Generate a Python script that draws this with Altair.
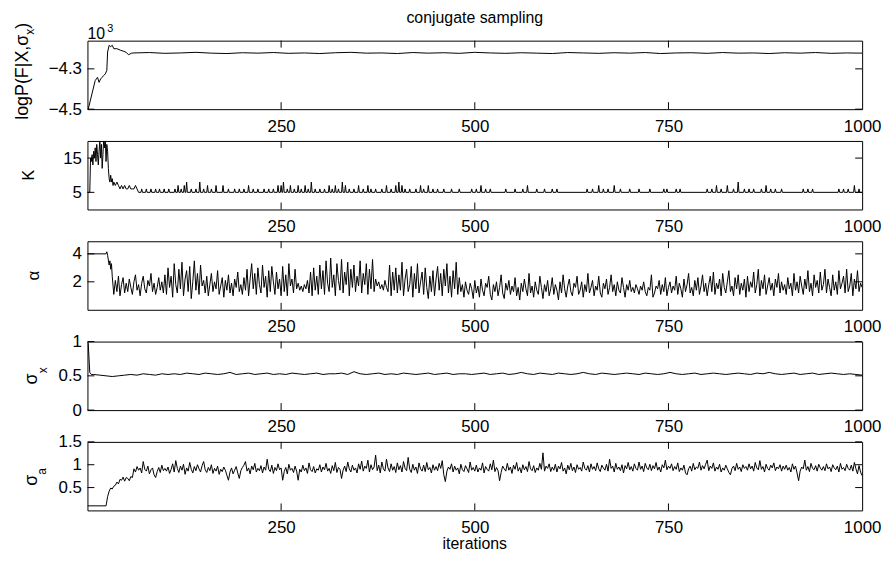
import altair as alt
import pandas as pd

FONT = "Liberation Sans"
W, H = 780, 69
SPACING = 32
TICK = 7

x_tick_labels = [250, 500, 750, 1000]
x_tick_marks = [250, 500, 750]

# ---- panel 1: logP(F|X, sigma_x), in units of 10^3 ----
logp_early_iter = [1, 10, 13, 15, 17, 19, 21, 23, 25, 26, 28, 30, 32, 34, 38, 43, 47, 50, 53, 57, 60]
logp_early_val = [-4.5, -4.358, -4.342, -4.367, -4.35, -4.342, -4.333, -4.325, -4.308, -4.2165,
                  -4.183, -4.19, -4.183, -4.2, -4.2, -4.208, -4.213, -4.218, -4.23, -4.222, -4.221]
logp_steady_start, logp_steady_step = 80, 20
logp_steady = [-4.219, -4.223, -4.221, -4.218, -4.222, -4.224, -4.220, -4.222, -4.219, -4.223,
               -4.221, -4.224, -4.220, -4.218, -4.222, -4.221, -4.224, -4.219, -4.222, -4.220,
               -4.223, -4.218, -4.221, -4.223, -4.220, -4.222, -4.224, -4.219, -4.221, -4.223,
               -4.220, -4.222, -4.219, -4.224, -4.221, -4.220, -4.223, -4.219, -4.222, -4.221,
               -4.224, -4.220, -4.222, -4.219, -4.223, -4.221, -4.222]

# ---- panel 2: K ----
k_early_iter = [0, 3, 4, 5, 6, 7, 8, 9, 10, 11, 12, 13, 14, 15, 16, 17, 18, 19, 20, 21, 22, 23,
                24, 25, 26, 27, 28, 29, 30, 31, 32, 33, 34, 36, 38, 40, 42, 44, 46, 48, 50, 52,
                54, 56, 58, 60, 62, 64, 66]
k_early_val = [5, 5, 15, 14, 16, 13, 17, 15, 18, 14, 19, 16, 13, 17, 20, 15, 19, 12, 16, 21, 18, 21,
               14, 19, 17, 12, 9, 8, 10, 8, 9, 7, 8, 7, 8, 7, 6, 7, 6, 7, 6, 6,
               7, 6, 6, 6, 7, 6, 5]
k_base = 5
k_spike_iter = [70, 76, 82, 88, 93, 99, 105, 113, 117, 121, 125, 128, 134, 140, 145, 150, 155, 160,
                166, 175, 182, 190, 196, 202, 208, 214, 220, 228, 234, 240, 246, 250, 253, 258, 262,
                267, 272, 276, 281, 285, 289, 294, 300, 306, 312, 316, 320, 324, 329, 333, 338, 344,
                350, 356, 362, 366, 372, 380, 386, 392, 398, 402, 406, 410, 416, 424, 430, 434, 440,
                446, 452, 460, 470, 480, 496, 502, 508, 514, 520, 540, 552, 562, 568, 580, 590, 600,
                606, 645, 652, 660, 666, 672, 680, 688, 700, 712, 726, 744, 748, 760, 765, 800, 806,
                812, 818, 826, 834, 840, 848, 854, 860, 870, 876, 882, 888, 896, 924, 930, 936, 970,
                976, 982, 990, 996]
k_spike_val = [6, 6, 6, 6, 6, 6, 6, 6, 7, 6, 7, 8, 6, 6, 8, 6, 7, 6,
               7, 7, 6, 6, 6, 6, 7, 6, 6, 6, 6, 6, 7, 7, 8, 6, 7,
               6, 7, 6, 7, 6, 8, 6, 6, 6, 7, 6, 7, 6, 8, 7, 6, 6,
               7, 6, 7, 6, 6, 6, 7, 6, 7, 8, 7, 6, 6, 6, 7, 6, 7,
               6, 6, 6, 6, 6, 6, 6, 7, 6, 6, 6, 6, 6, 7, 6, 6, 6,
               6, 6, 6, 7, 6, 6, 7, 6, 6, 6, 6, 6, 6, 6, 6, 6, 6,
               7, 6, 7, 6, 8, 6, 6, 6, 6, 7, 6, 6, 6, 6, 6, 6, 6,
               6, 6, 7, 6]

# ---- panel 3: alpha (early part, then every 2nd iteration from 52) ----
alpha_early_iter = [0, 24, 25, 26, 28, 29, 30, 31, 32, 34, 36, 38, 40, 42, 44, 46, 48, 50]
alpha_early_val = [4.0, 4.0, 4.15, 3.9, 3.2, 3.5, 2.9, 3.3, 2.4, 1.1, 2.1, 1.3, 2.4, 1.0, 1.8, 2.3, 1.2, 1.9]
alpha_start, alpha_step = 52, 2
alpha_c1 = [1.3, 2.2, 1.6, 1.1, 2.0, 2.5, 1.4, 1.8, 1.0, 1.9, 2.4, 1.5, 1.2, 2.1, 1.7, 2.6, 1.3, 1.9, 1.1, 1.6, 2.3, 1.4, 2.0, 1.2, 2.5]
alpha_c2 = [1.1, 3.0, 1.6, 2.4, 0.9, 3.3, 1.8, 1.2, 2.9, 1.5, 3.4, 1.0, 2.2, 2.8, 1.3, 3.1, 0.8, 2.0, 3.5, 1.4, 2.6, 1.1, 3.2, 1.7, 2.1]
alpha_c3 = [1.2, 2.4, 1.0, 1.8, 2.6, 1.3, 2.0, 1.5, 2.8, 1.1, 1.7, 2.3, 0.9, 2.1, 1.4, 2.5, 1.2, 1.9, 1.0, 2.2, 1.6, 2.7, 1.3, 1.8, 1.1]
alpha_c4 = [2.3, 1.4, 2.9, 1.0, 2.2, 3.3, 1.5, 2.6, 1.1, 3.0, 1.8, 1.2, 3.2, 1.6, 2.4, 0.9, 2.8, 1.3, 3.1, 2.0, 1.1, 2.7, 1.5, 2.2, 1.0]
alpha_c5 = [3.1, 1.3, 2.5, 1.0, 3.3, 1.7, 2.2, 1.2, 2.9, 1.5, 1.9, 1.4, 1.7, 1.3, 1.8, 1.5, 2.1, 1.2, 2.7, 1.0, 3.0, 1.4, 2.4, 1.1, 3.2]
alpha_c6 = [1.5, 2.8, 1.1, 3.5, 1.9, 1.3, 3.7, 1.6, 2.5, 1.0, 3.3, 2.1, 1.4, 3.6, 1.2, 2.7, 1.8, 3.4, 1.0, 2.9, 1.6, 3.2, 1.3, 2.4, 1.7]
alpha_c7 = [3.5, 1.2, 2.6, 1.8, 3.3, 1.1, 2.9, 1.5, 3.6, 1.3, 2.2, 1.7, 2.0, 1.5, 1.8, 1.4, 2.1, 1.6, 1.3, 3.2, 1.0, 2.7, 1.4, 3.0, 1.2]
alpha_c8 = [2.5, 1.4, 3.4, 1.0, 2.2, 2.9, 1.3, 1.8, 3.1, 0.9, 2.6, 1.5, 3.3, 1.2, 2.0, 2.7, 1.1, 3.0, 1.6, 0.8, 2.4, 1.3, 2.8, 1.0, 2.2]
alpha_c9 = [3.1, 1.4, 2.6, 1.0, 2.9, 1.7, 3.3, 1.2, 2.4, 0.9, 2.8, 1.5, 3.4, 1.1, 2.3, 1.3, 1.8, 0.9, 2.0, 1.4, 1.1, 1.9, 1.5, 0.8, 2.1]
alpha_c10 = [1.2, 1.7, 0.9, 2.2, 1.4, 1.0, 1.9, 1.6, 2.4, 1.1, 0.7, 1.8, 1.3, 2.0, 1.0, 1.6, 2.5, 1.2, 0.8, 1.9, 1.4, 2.1, 1.1, 1.7, 1.3]
alpha_c11 = [2.3, 1.0, 1.6, 0.7, 1.9, 1.3, 2.2, 1.5, 1.0, 2.6, 1.2, 1.7, 0.9, 2.0, 1.4, 1.1, 2.4, 1.6, 0.8, 1.8, 1.3, 2.1, 1.0, 1.5, 2.3]
alpha_c12 = [1.1, 1.8, 1.4, 0.7, 2.0, 1.2, 2.5, 1.5, 0.9, 1.7, 2.2, 1.3, 1.0, 1.9, 1.6, 2.4, 1.1, 1.4, 2.0, 0.9, 1.8, 1.3, 2.6, 1.2, 1.6]
alpha_c13 = [2.1, 1.0, 1.7, 1.4, 2.4, 1.2, 0.9, 1.9, 1.5, 2.2, 1.1, 1.6, 2.5, 1.3, 1.8, 1.0, 2.0, 1.4, 1.2, 2.3, 1.6, 0.9, 1.8, 1.4, 2.1]
alpha_c14 = [1.3, 1.6, 1.2, 1.8, 1.5, 1.1, 1.7, 1.4, 2.0, 1.3, 1.0, 1.6, 1.4, 2.5, 0.9, 1.2, 1.7, 1.5, 2.1, 1.1, 1.8, 1.3, 2.3, 1.0, 1.6]
alpha_c15 = [2.0, 1.2, 1.7, 1.4, 2.4, 1.1, 1.9, 1.5, 0.9, 2.2, 1.3, 1.8, 2.6, 1.2, 1.6, 1.0, 2.1, 1.4, 2.3, 1.1, 1.7, 2.5, 1.3, 1.9, 1.0]
alpha_c16 = [1.8, 2.4, 1.3, 2.7, 1.1, 1.9, 1.5, 2.2, 1.0, 2.6, 1.6, 1.2, 2.0, 2.8, 1.3, 1.7, 1.0, 2.3, 1.5, 2.5, 1.1, 1.9, 1.4, 2.2, 0.9]
alpha_c17 = [2.4, 1.3, 2.0, 1.6, 2.7, 1.2, 1.8, 2.9, 1.0, 2.1, 1.5, 2.5, 1.1, 1.7, 2.3, 1.4, 1.9, 1.0, 2.2, 1.6, 2.6, 1.2, 2.0, 1.4, 1.8]
alpha_c18 = [1.1, 2.3, 1.5, 1.9, 1.0, 2.6, 1.4, 2.0, 1.2, 2.4, 1.7, 1.1, 2.2, 1.5, 2.8, 1.3, 1.9, 1.0, 2.5, 1.6, 2.1, 1.2, 2.7, 1.4, 1.8]
alpha_c19 = [2.9, 1.2, 2.2, 1.6, 1.0, 2.5, 1.4, 2.0, 1.1, 2.8, 1.5, 1.9, 2.4, 1.2, 2.9, 1.3, 1.7, 2.6, 1.0, 2.2, 1.5, 2.8, 1.3, 1.9, 1.6]

# ---- panel 4: sigma_x ----
sx_early_iter = [0, 1, 3, 5]
sx_early_val = [1.0, 0.97, 0.55, 0.52]
sx_start, sx_step = 8, 8
sx_a = [0.52, 0.51, 0.50, 0.49, 0.50, 0.51, 0.52, 0.51, 0.53, 0.52, 0.51, 0.53]
sx_b = [0.52, 0.53, 0.52, 0.54, 0.53, 0.52, 0.54, 0.53, 0.52, 0.53, 0.55, 0.52, 0.53]
sx_c = [0.54, 0.52, 0.53, 0.54, 0.52, 0.53, 0.52, 0.54, 0.53, 0.52, 0.53, 0.54]
sx_d = [0.52, 0.53, 0.53, 0.54, 0.52, 0.56, 0.53, 0.52, 0.53, 0.54, 0.52, 0.53, 0.52]
sx_e = [0.54, 0.53, 0.52, 0.53, 0.54, 0.52, 0.53, 0.54, 0.52, 0.53, 0.53, 0.52]
sx_f = [0.53, 0.54, 0.52, 0.53, 0.54, 0.52, 0.53, 0.55, 0.53, 0.52, 0.54, 0.53, 0.52]
sx_g = [0.54, 0.53, 0.52, 0.53, 0.55, 0.53, 0.52, 0.54, 0.53, 0.52, 0.53, 0.54]
sx_h = [0.53, 0.52, 0.54, 0.53, 0.52, 0.53, 0.55, 0.53, 0.52, 0.53, 0.54, 0.52, 0.53]
sx_i = [0.54, 0.53, 0.52, 0.53, 0.54, 0.53, 0.52, 0.54, 0.53, 0.55, 0.53, 0.52]
sx_j = [0.53, 0.54, 0.52, 0.53, 0.54, 0.52, 0.53, 0.54, 0.53, 0.52, 0.53, 0.52, 0.51]

# ---- panel 5: sigma_a (early part, then every 2nd iteration from 52) ----
sa_early_iter = [0, 24, 26, 28, 30, 32, 34, 36, 38, 40, 42, 44, 46, 48, 50]
sa_early_val = [0.1, 0.1, 0.3, 0.42, 0.49, 0.47, 0.53, 0.55, 0.62, 0.58, 0.68, 0.66, 0.73, 0.64, 0.72]
sa_start, sa_step = 52, 2
sa_c1 = [0.70, 0.65, 0.74, 0.72, 0.91, 0.84, 0.96, 0.88, 0.93, 0.82, 1.07, 0.90, 0.86, 0.97, 0.80, 0.89, 0.93, 0.78, 0.72, 0.85, 0.94, 0.83, 0.99, 0.87, 0.92]
sa_c2 = [0.86, 0.95, 0.81, 0.90, 1.02, 0.84, 1.09, 0.92, 0.83, 0.97, 0.88, 1.01, 0.79, 0.93, 0.86, 1.05, 0.90, 0.82, 0.96, 0.87, 1.00, 0.91, 0.84, 0.98, 1.07]
sa_c3 = [0.89, 0.83, 0.94, 0.87, 1.00, 0.81, 0.92, 0.86, 0.97, 0.79, 0.90, 0.85, 0.95, 0.88, 0.77, 0.66, 0.84, 0.93, 0.80, 0.88, 0.96, 0.82, 0.70, 0.87, 0.94]
sa_c4 = [0.99, 1.07, 0.86, 0.93, 0.80, 0.97, 0.89, 1.03, 0.84, 0.92, 0.87, 0.98, 0.82, 0.95, 0.88, 1.12, 0.90, 0.85, 0.99, 0.81, 0.94, 0.87, 1.02, 0.89, 0.93]
sa_c5 = [0.66, 0.85, 0.94, 0.80, 1.01, 0.88, 0.92, 0.83, 0.97, 0.86, 0.66, 0.90, 0.84, 0.99, 0.87, 0.93, 0.81, 1.04, 0.89, 0.85, 0.96, 0.82, 0.91, 0.88, 1.00]
sa_c6 = [0.84, 0.95, 0.89, 1.03, 0.86, 0.92, 0.81, 0.98, 0.87, 1.05, 0.83, 0.94, 0.90, 0.70, 0.88, 0.97, 0.85, 1.06, 0.91, 0.84, 0.99, 0.88, 0.93, 0.82, 1.02]
sa_c7 = [0.90, 1.08, 0.86, 0.97, 0.92, 1.10, 0.84, 1.00, 0.89, 0.95, 1.21, 0.87, 0.99, 0.82, 1.06, 0.91, 0.86, 1.12, 0.93, 0.85, 1.02, 0.88, 0.96, 0.83, 1.04]
sa_c8 = [0.89, 0.98, 0.84, 1.07, 0.92, 0.87, 1.16, 0.90, 0.83, 1.01, 0.88, 0.95, 0.81, 1.04, 0.91, 0.86, 0.99, 0.85, 1.05, 0.89, 0.94, 0.82, 1.00, 0.88, 0.96]
sa_c9 = [0.87, 1.03, 0.92, 1.09, 0.78, 0.63, 0.86, 0.95, 0.90, 1.02, 0.84, 0.97, 0.88, 0.93, 0.80, 1.01, 0.89, 0.85, 0.98, 0.91, 0.83, 1.06, 0.88, 0.94, 0.86]
sa_c10 = [0.99, 0.84, 0.93, 0.88, 1.04, 0.82, 0.96, 0.90, 0.86, 1.02, 0.89, 1.10, 0.85, 0.94, 0.87, 0.65, 0.83, 0.97, 0.91, 0.86, 1.03, 0.88, 0.95, 0.81, 0.99]
sa_c11 = [0.90, 1.05, 0.86, 0.94, 0.82, 1.00, 0.89, 0.96, 0.85, 1.07, 0.91, 0.87, 0.98, 0.83, 0.93, 0.88, 1.03, 0.90, 1.26, 0.86, 0.97, 0.92, 1.02, 0.85, 0.95]
sa_c12 = [0.88, 1.01, 0.84, 0.97, 0.91, 1.05, 0.86, 0.93, 0.80, 0.99, 0.89, 1.03, 0.87, 0.95, 0.83, 1.00, 0.90, 0.94, 0.86, 1.06, 0.92, 0.88, 0.98, 0.84, 1.02]
sa_c13 = [0.90, 0.96, 0.87, 1.04, 0.91, 0.85, 0.99, 0.93, 0.88, 1.01, 0.86, 1.12, 0.92, 0.97, 0.84, 1.03, 0.90, 0.95, 0.87, 1.00, 0.82, 0.98, 0.91, 1.05, 0.89]
sa_c14 = [0.96, 0.86, 1.02, 0.92, 0.88, 1.06, 0.90, 0.97, 0.85, 1.03, 0.93, 0.89, 1.01, 0.87, 0.98, 0.91, 1.05, 0.88, 0.95, 0.84, 1.00, 0.93, 1.10, 0.89, 0.97]
sa_c15 = [0.92, 1.02, 0.87, 0.96, 0.90, 1.04, 0.85, 0.93, 0.88, 0.99, 0.82, 0.78, 0.91, 0.97, 0.86, 1.03, 0.89, 0.95, 0.92, 1.06, 0.88, 0.98, 0.91, 1.01, 1.10]
sa_c16 = [0.87, 0.97, 0.92, 1.04, 0.86, 0.95, 0.90, 1.01, 0.84, 0.93, 0.88, 0.99, 0.91, 0.83, 0.78, 0.92, 0.97, 0.87, 1.03, 0.90, 0.95, 0.85, 1.00, 0.92, 0.96]
sa_c17 = [0.88, 1.02, 0.91, 0.97, 0.86, 1.05, 0.93, 0.89, 1.09, 0.90, 0.96, 0.84, 1.01, 0.92, 0.88, 0.99, 0.93, 1.04, 0.87, 0.95, 0.91, 1.00, 0.86, 0.97, 0.90]
sa_c18 = [0.99, 0.88, 0.94, 0.84, 1.02, 0.90, 0.97, 0.82, 0.65, 0.86, 0.95, 0.91, 1.10, 0.88, 0.96, 0.85, 1.03, 0.92, 0.89, 0.98, 0.86, 1.01, 0.93, 0.88, 0.96]
sa_c19 = [0.87, 1.02, 0.91, 0.95, 0.85, 1.00, 0.93, 0.89, 0.97, 0.84, 1.03, 0.90, 0.94, 0.87, 1.01, 0.92, 0.88, 0.99, 0.86, 1.05, 0.91, 0.80, 0.98, 0.84, 0.76]


def series(early_iter, early_val, start, step, values):
    its = list(early_iter) + [start + step * k for k in range(len(values))]
    return pd.DataFrame({"it": its, "v": list(early_val) + list(values)})


df_logp = series(logp_early_iter, logp_early_val, logp_steady_start, logp_steady_step, logp_steady)

k_its, k_vals = list(k_early_iter), list(k_early_val)
for s, v in zip(k_spike_iter, k_spike_val):
    k_its += [s - 1, s, s + 1]
    k_vals += [k_base, v, k_base]
k_its.append(1000)
k_vals.append(k_base)
df_k = pd.DataFrame({"it": k_its, "v": k_vals})

alpha_main = (alpha_c1 + alpha_c2 + alpha_c3 + alpha_c4 + alpha_c5 + alpha_c6 + alpha_c7
              + alpha_c8 + alpha_c9 + alpha_c10 + alpha_c11 + alpha_c12 + alpha_c13
              + alpha_c14 + alpha_c15 + alpha_c16 + alpha_c17 + alpha_c18 + alpha_c19)
df_alpha = series(alpha_early_iter, alpha_early_val, alpha_start, alpha_step, alpha_main)
df_sx = series(sx_early_iter, sx_early_val, sx_start, sx_step,
               sx_a + sx_b + sx_c + sx_d + sx_e + sx_f + sx_g + sx_h + sx_i + sx_j)
sa_main = (sa_c1 + sa_c2 + sa_c3 + sa_c4 + sa_c5 + sa_c6 + sa_c7 + sa_c8 + sa_c9 + sa_c10
           + sa_c11 + sa_c12 + sa_c13 + sa_c14 + sa_c15 + sa_c16 + sa_c17 + sa_c18 + sa_c19)
df_sa = series(sa_early_iter, sa_early_val, sa_start, sa_step, sa_main)

xscale = alt.Scale(domain=[0, 1000], nice=False, zero=False)


def xaxis():
    return alt.Axis(values=x_tick_labels, title=None, ticks=False, domain=False, grid=False,
                    tickSize=0, labelPadding=9, labelFontSize=17, labelFont=FONT,
                    labelColor="black", labelFlush=False, labelOverlap=False, format="d")


def yaxis(vals, fmt):
    return alt.Axis(values=vals, title=None, ticks=False, domain=False, grid=False,
                    tickSize=0, labelPadding=6, labelFontSize=17, labelFont=FONT,
                    labelColor="black", labelFlush=False, labelOverlap=False, format=fmt)


def text_layer(s, px, py, size, angle=None, align="center", baseline="alphabetic"):
    kw = dict(font=FONT, fontSize=size, color="black", align=align, baseline=baseline)
    if angle is not None:
        kw["angle"] = angle
    return alt.Chart(pd.DataFrame({"s": [s]})).mark_text(**kw).encode(
        x=alt.value(px), y=alt.value(py), text="s:N")


def panel(df, ydom, yvals, yfmt, extras):
    ys = alt.Scale(domain=ydom, nice=False, zero=False)
    X = alt.X("it:Q", scale=xscale, axis=xaxis())
    Y = alt.Y("v:Q", scale=ys, axis=yaxis(yvals, yfmt))
    line = alt.Chart(df).mark_line(color="black", strokeWidth=1, clip=True).encode(x=X, y=Y)
    xt = pd.DataFrame({"it": x_tick_marks})
    yt = pd.DataFrame({"v": yvals})
    rk = dict(color="black", strokeWidth=1)
    bt = alt.Chart(xt).mark_rule(**rk).encode(x=X, y=alt.value(H), y2=alt.value(H - TICK))
    tt = alt.Chart(xt).mark_rule(**rk).encode(x=X, y=alt.value(0), y2=alt.value(TICK))
    lt = alt.Chart(yt).mark_rule(**rk).encode(y=Y, x=alt.value(0), x2=alt.value(TICK))
    rt = alt.Chart(yt).mark_rule(**rk).encode(y=Y, x=alt.value(W - TICK), x2=alt.value(W))
    return alt.layer(line, bt, tt, lt, rt, *extras).properties(width=W, height=H)


# invisible marker fixing the top-left corner of the drawing
anchor = alt.Chart(pd.DataFrame({"a": [0]})).mark_rule(opacity=0).encode(
    x=alt.value(-85), x2=alt.value(-84), y=alt.value(-40), y2=alt.value(-40))

p1 = panel(df_logp, [-4.5, -4.16], [-4.5, -4.3], ".1f", [
    anchor,
    text_layer("conjugate sampling", 390, -18, 16),
    text_layer("10", 0, -1.5, 16, align="left"),
    text_layer("3", 20, -9, 11, align="left"),
    text_layer("logP(F|X,σ", -60, -6, 18, angle=270, align="right"),
    text_layer("x", -53.5, -6, 12, angle=270, align="left"),
    text_layer(")", -60, -12, 18, angle=270, align="left"),
])
p2 = panel(df_k, [0, 20], [5, 15], "d", [
    text_layer("K", -53.7, 34.5, 16, angle=270),
])
p3 = panel(df_alpha, [0, 4.9], [2, 4], "d", [
    text_layer("α", -48.7, 34.5, 17, angle=270),
])
p4 = panel(df_sx, [0, 1], [0, 0.5, 1], ".2~f", [
    text_layer("σ", -50.3, 32, 18, angle=270, align="right"),
    text_layer("x", -40.3, 32, 12, angle=270, align="left"),
])
p5 = panel(df_sa, [0, 1.5], [0.5, 1, 1.5], ".2~f", [
    text_layer("σ", -50.3, 33, 18, angle=270, align="right"),
    text_layer("a", -42, 33, 12, angle=270, align="left"),
    text_layer("iterations", 390, 108, 16),
])

chart = alt.vconcat(p1, p2, p3, p4, p5, spacing=SPACING, bounds="flush").properties(
    padding={"left": -6, "top": -10, "right": -1, "bottom": -3},
    background="white",
).configure_view(stroke="black", strokeWidth=1)

chart.save("out.html", embed_options={"renderer": "svg", "actions": False})
